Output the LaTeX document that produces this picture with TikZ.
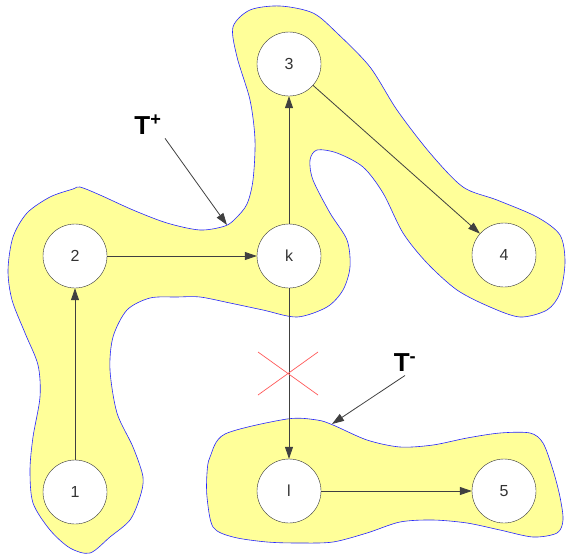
\documentclass[tikz,border=0pt]{standalone}
\usepackage{fontspec}
\setmainfont{Liberation Sans}
\usetikzlibrary{arrows.meta}
\definecolor{blobfill}{HTML}{FFFF99}

\begin{document}
\begin{tikzpicture}[x=1pt,y=-1pt,
  vert/.style={circle,draw=black!80,fill=white,minimum size=64pt,inner sep=0pt,font=\fontsize{16}{18}\selectfont,text=black!80},
  edge/.style={draw=black!75,line width=0.8pt,-{Triangle[length=12pt,width=8pt]}},
  blob/.style={draw=blue!85,fill=blobfill,line width=0.6pt},
  tlab/.style={font=\fontsize{26}{28}\selectfont\bfseries}]
\useasboundingbox (0,0) rectangle (567,554);
\path[blob] plot[smooth cycle,tension=0.5] coordinates {(233,27) (250,10) (280,6) (313,13) (337,33) (370,67) (397,110) (430,153) (463,187) (497,200) (537,217) (560,235) (565,262) (560,293) (547,310) (520,317) (490,307) (457,290) (427,263) (403,233) (383,193) (363,167) (337,153) (317,150) (310,160) (313,180) (330,213) (347,240) (350,267) (343,290) (327,307) (297,317) (263,310) (230,303) (200,297) (177,297) (150,298) (127,310) (113,337) (110,370) (117,413) (133,447) (143,477) (140,497) (130,520) (110,537) (90,553) (70,548) (50,530) (33,503) (30,470) (33,437) (40,397) (38,365) (25,333) (12,300) (8,270) (13,237) (27,213) (50,197) (73,189) (80,187) (100,195) (133,210) (167,223) (200,230) (225,226) (236,218) (247,204) (253,180) (255,140) (250,100) (237,57)};
\path[blob] plot[smooth cycle,tension=0.5] coordinates {(210,457) (225,434) (287,419) (317,420) (333,425) (367,440) (400,447) (433,445) (467,438) (500,433) (530,433) (543,443) (553,470) (560,497) (563,520) (557,533) (533,537) (500,530) (467,523) (433,520) (400,522) (367,533) (333,542) (300,543) (267,542) (233,537) (213,527) (207,497) (207,473)};
\node[vert] (n1) at (75,492) {1};
\node[vert] (n2) at (75,256) {2};
\node[vert] (k) at (289,256) {k};
\node[vert] (n3) at (289,64) {3};
\node[vert] (n4) at (504,255) {4};
\node[vert] (l) at (289,491) {l};
\node[vert] (n5) at (504,491) {5};
\draw[edge] (n1) -- (n2);
\draw[edge] (n2) -- (k);
\draw[edge] (k) -- (n3);
\draw[edge] (n3) -- (n4);
\draw[edge] (k) -- (l);
\draw[edge] (l) -- (n5);
\draw[red!65,line width=0.7pt] (258,352) -- (318,395) (318,352) -- (258,395);
\node[tlab] (tplus) at (148,125) {T\textsuperscript{+}};
\node[tlab] (tminus) at (405,363) {T\textsuperscript{-}};
\coordinate (tplustip) at (227,225);
\coordinate (tminustip) at (332,424);
\draw[edge] (tplus.south east) -- (tplustip);
\draw[edge] (tminus.south) -- (tminustip);
\end{tikzpicture}
\end{document}
